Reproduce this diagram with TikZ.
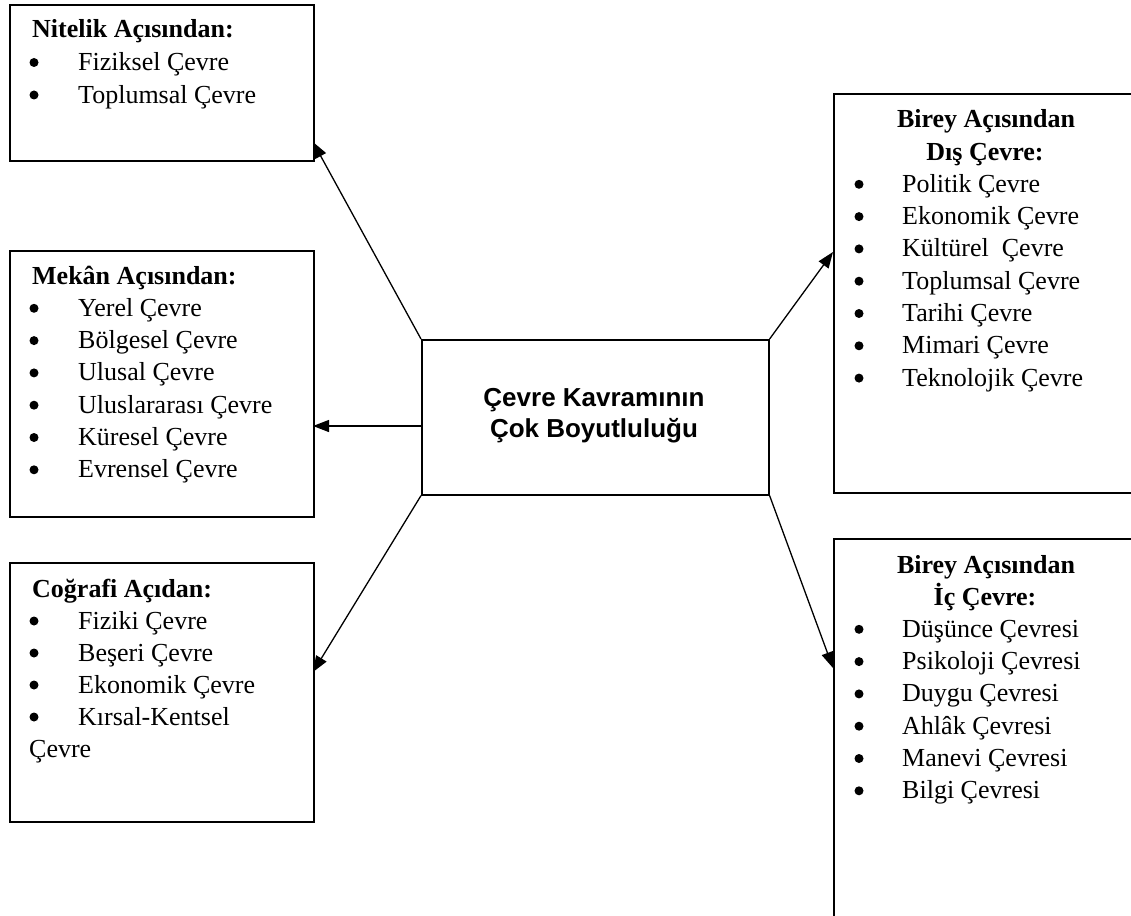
\documentclass[tikz,border=0pt]{standalone}
\usepackage{fontspec}
\setmainfont{Liberation Serif}
\newfontfamily\hubsans{Liberation Sans}
\usetikzlibrary{arrows.meta}
\begin{document}
\begin{tikzpicture}[x=1pt,y=-1pt,
  panel/.style={draw,line width=1.6pt,rectangle,inner sep=0pt,anchor=north west},
  txt/.style={inner sep=0pt,anchor=base west,font=\fontsize{26pt}{32pt}\selectfont},
  head/.style={txt,font=\fontsize{26pt}{32pt}\selectfont\bfseries},
  chead/.style={head,anchor=base},
  dot/.style={circle,fill,inner sep=0pt,minimum size=9pt},
  hubtxt/.style={inner sep=0pt,anchor=base,font=\fontsize{26pt}{32pt}\selectfont\hubsans\bfseries},
  link/.style={line width=1.3pt,-{Triangle[length=16pt,width=12pt]}}]
\useasboundingbox (0,0) rectangle (1131,915);

% boxes
\node[panel,minimum width=304pt,minimum height=156pt] (nit) at (9,4) {};
\node[panel,minimum width=304pt,minimum height=266pt] (mek) at (9,250) {};
\node[panel,minimum width=304pt,minimum height=259pt] (cog) at (9,562) {};
\node[panel,minimum width=347pt,minimum height=155pt] (hub) at (421,339) {};
\node[panel,minimum width=320pt,minimum height=399pt] (dis) at (833,93) {};
\node[panel,minimum width=320pt,minimum height=400pt] (ic) at (833,538) {};

% centre title
\node[hubtxt] (hubA) at (594,406) {Çevre Kavramının};
\node[hubtxt] (hubB) at (594,437) {Çok Boyutluluğu};

% left column lists
\node[head] (nitH) at (32,38) {Nitelik Açısından:};
\foreach \t [count=\i] in {Fiziksel Çevre,Toplumsal Çevre}{
  \node[dot] (nitD\i) at (34,30+32.5*\i) {};
  \node[txt] (nitT\i) at (78,38+32.5*\i) {\t};
}

\node[head] (mekH) at (32,284) {Mekân Açısından:};
\foreach \t [count=\i] in {Yerel Çevre,Bölgesel Çevre,Ulusal Çevre,Uluslararası Çevre,Küresel Çevre,Evrensel Çevre}{
  \node[dot] (mekD\i) at (34,276+32.3*\i) {};
  \node[txt] (mekT\i) at (78,284+32.3*\i) {\t};
}

\node[head] (cogH) at (32,597) {Coğrafi Açıdan:};
\foreach \t [count=\i] in {Fiziki Çevre,Beşeri Çevre,Ekonomik Çevre,Kırsal-Kentsel}{
  \node[dot] (cogD\i) at (34,589+32*\i) {};
  \node[txt] (cogT\i) at (78,597+32*\i) {\t};
}
\node[txt] (cogT5) at (29,757) {Çevre};

% right column lists
\node[chead] (disH1) at (986,128) {Birey Açısından};
\node[chead] (disH2) at (985,160) {Dış Çevre:};
\foreach \t [count=\i] in {Politik Çevre,Ekonomik Çevre,Kültürel\ \ Çevre,Toplumsal Çevre,Tarihi Çevre,Mimari Çevre,Teknolojik Çevre}{
  \node[dot] (disD\i) at (859,152+32.3*\i) {};
  \node[txt] (disT\i) at (902,160+32.3*\i) {\t};
}

\node[chead] (icH1) at (986,573) {Birey Açısından};
\node[chead] (icH2) at (985,605) {İç Çevre:};
\foreach \t [count=\i] in {Düşünce Çevresi,Psikoloji Çevresi,Duygu Çevresi,Ahlâk Çevresi,Manevi Çevresi,Bilgi Çevresi}{
  \node[dot] (icD\i) at (859,597+32.3*\i) {};
  \node[txt] (icT\i) at (902,605+32.3*\i) {\t};
}

% arrow targets on the box edges
\coordinate (nitIn) at (313,142);
\coordinate (mekIn) at (313,426);
\coordinate (cogIn) at (313,672);
\coordinate (disIn) at (833,252);
\coordinate (icIn) at (833,668);

% connectors
\draw[link] (hub.north west) -- (nitIn);
\draw[link] (hub.west |- mekIn) -- (mekIn);
\draw[link] (hub.south west) -- (cogIn);
\draw[link] (hub.north east) -- (disIn);
\draw[link] (hub.south east) -- (icIn);
\end{tikzpicture}
\end{document}
